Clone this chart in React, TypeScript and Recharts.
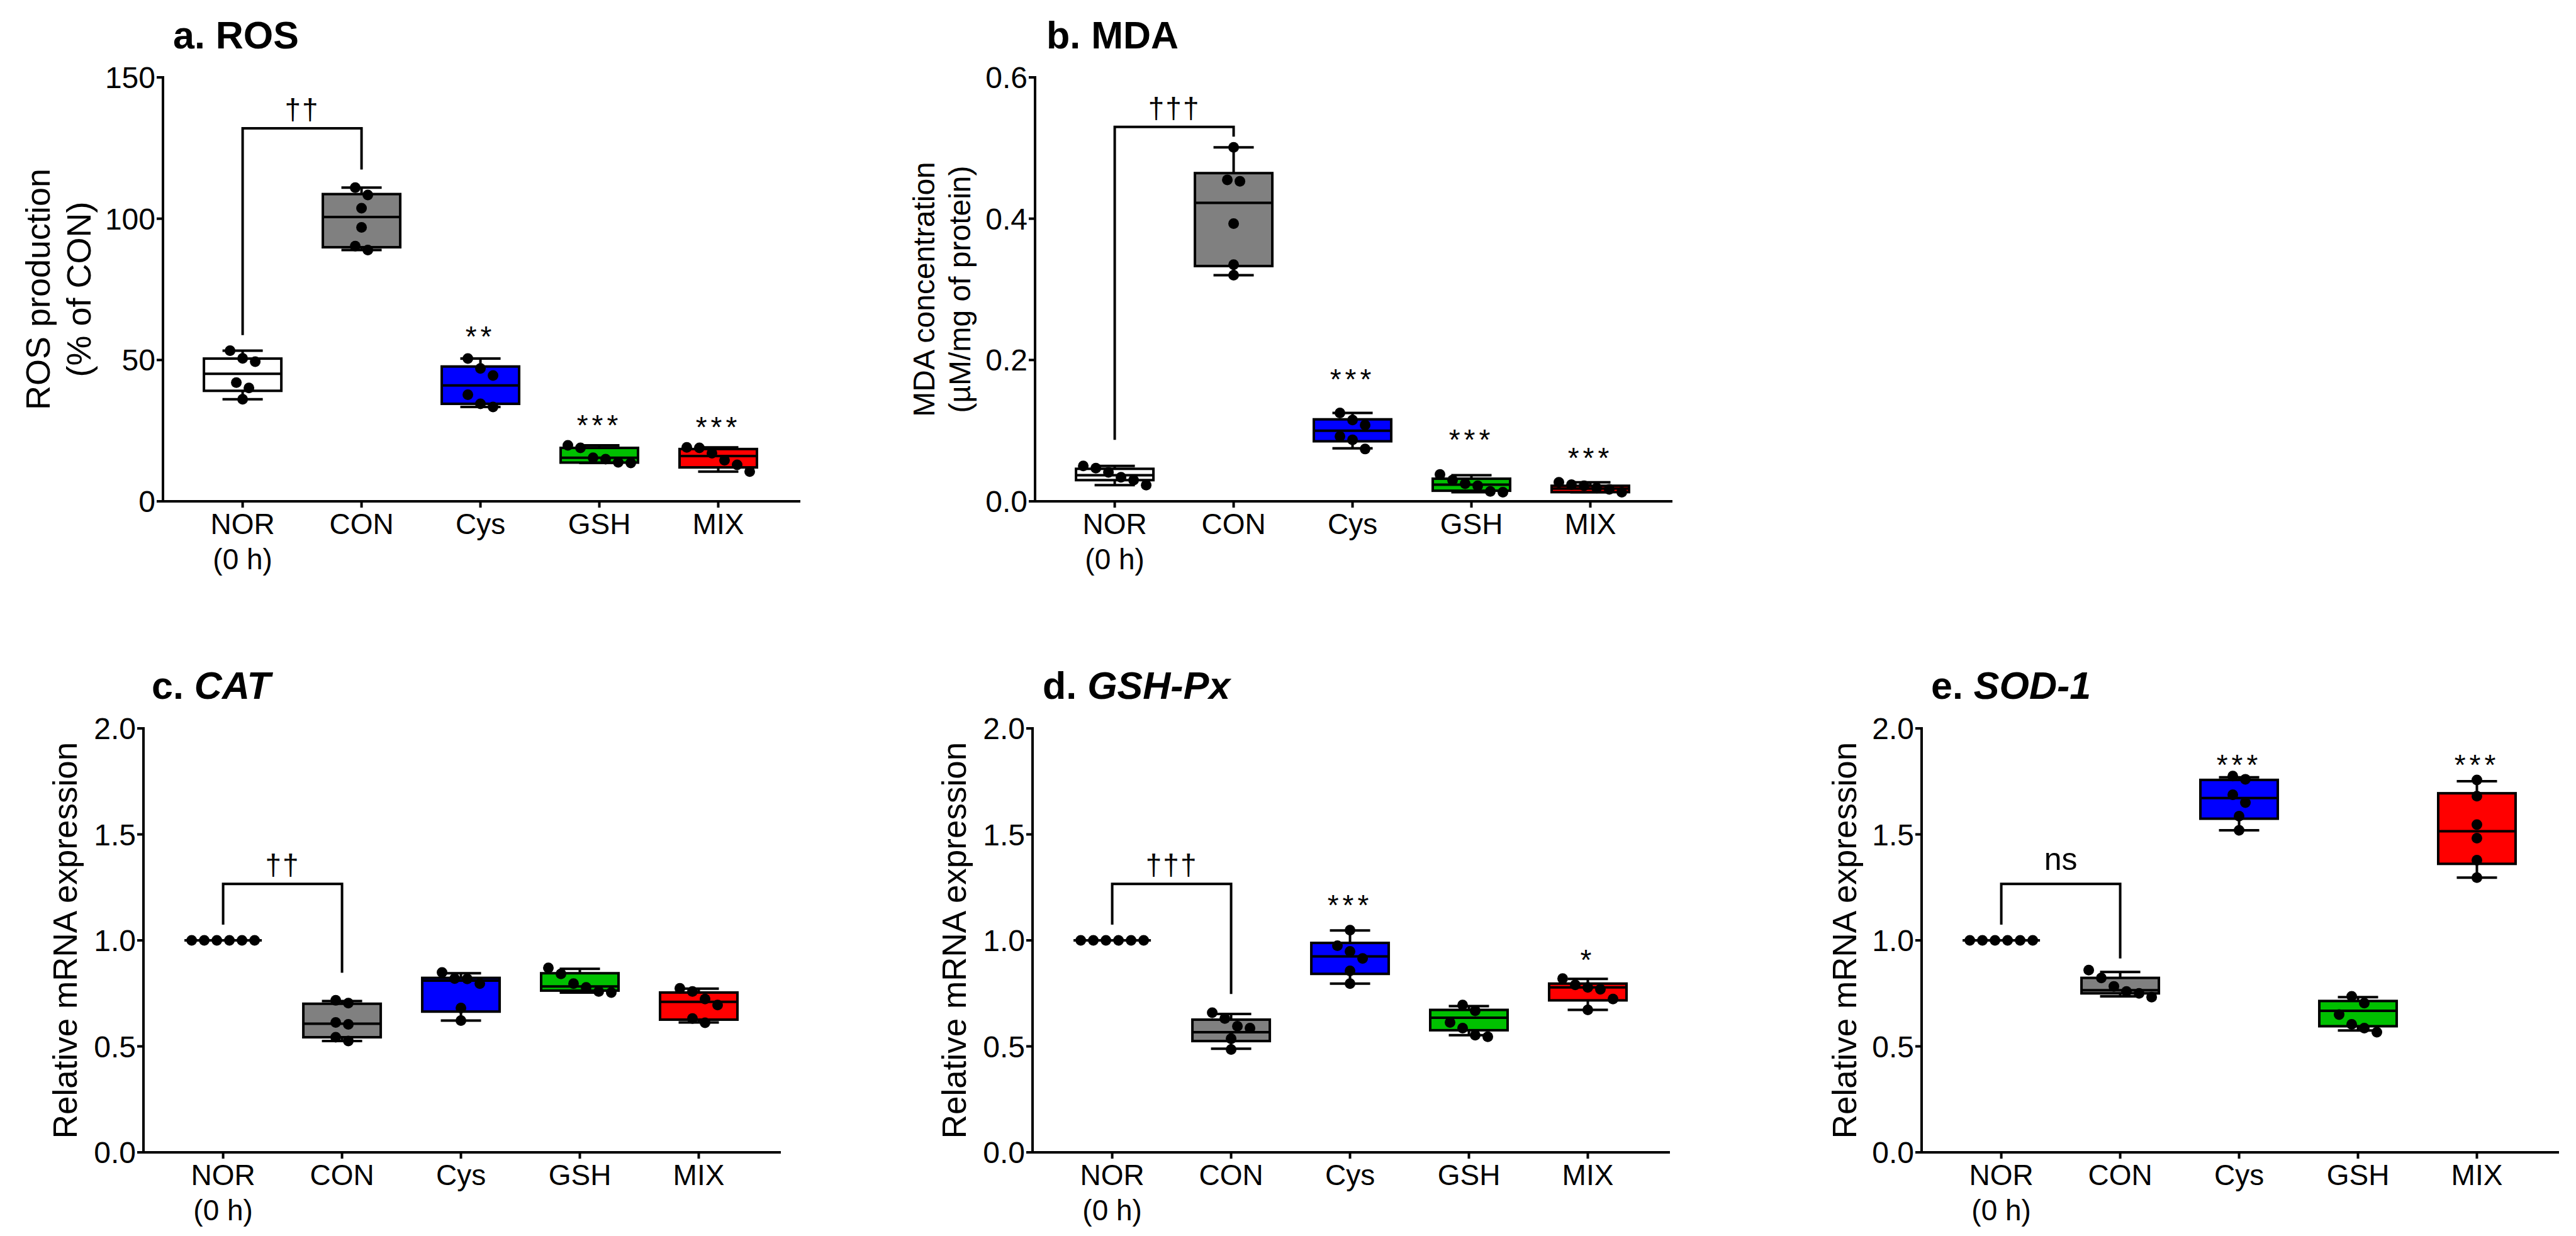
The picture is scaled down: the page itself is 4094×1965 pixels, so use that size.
import React from "react";
import { ComposedChart, Bar, Scatter, Line, XAxis, YAxis } from "recharts";

const FONT = "'Liberation Sans', Arial, sans-serif";

const CATEGORIES = ["NOR\n(0 h)", "CON", "Cys", "GSH", "MIX"];
const GROUP_COLORS = ["#FFFFFF", "#808080", "#0000FF", "#00C000", "#FF0000"];

// box stats per group: [min, Q1, median, Q3, max]
const ROS_BOXES = [
  [36.1, 39.1, 45.1, 50.5, 53.3],
  [88.9, 89.9, 100.6, 108.7, 111.0],
  [33.4, 34.5, 41.0, 47.7, 50.5],
  [13.6, 13.7, 15.4, 18.9, 19.8],
  [10.5, 12.0, 16.0, 18.5, 19.1],
];
const ROS_POINTS = [
  [53.3, 50.6, 49.4, 42.0, 40.1, 36.1],
  [111.0, 108.4, 103.7, 96.9, 90.3, 88.9],
  [50.5, 47.0, 44.5, 37.7, 34.5, 33.4],
  [19.8, 18.9, 15.4, 14.9, 13.8, 13.6],
  [19.1, 18.9, 17.0, 14.5, 12.9, 10.5],
];
const ROS_BRACKET = [58.8, 132, 117.4]; // left foot, top, right foot
const ROS_STARS = ["", "", "**", "***", "***"];
const ROS_STAR_Y = [0, 0, 60.5, 29.2, 28.5];

const MDA_BOXES = [
  [0.023, 0.03, 0.037, 0.046, 0.05],
  [0.32, 0.333, 0.4225, 0.4645, 0.501],
  [0.075, 0.085, 0.1, 0.116, 0.125],
  [0.013, 0.015, 0.0235, 0.032, 0.037],
  [0.013, 0.013, 0.018, 0.022, 0.027],
];
const MDA_POINTS = [
  [0.05, 0.047, 0.041, 0.034, 0.03, 0.023],
  [0.501, 0.455, 0.453, 0.393, 0.335, 0.32],
  [0.125, 0.115, 0.108, 0.092, 0.087, 0.074],
  [0.038, 0.03, 0.025, 0.022, 0.014, 0.013],
  [0.027, 0.0235, 0.022, 0.019, 0.017, 0.013],
];
const MDA_BRACKET = [0.087, 0.53, 0.516];
const MDA_STARS = ["", "", "***", "***", "***"];
const MDA_STAR_Y = [0, 0, 0.1816, 0.0962, 0.0706];

const CAT_BOXES = [
  [1, 1, 1, 1, 1],
  [0.525, 0.543, 0.607, 0.701, 0.714],
  [0.622, 0.664, 0.81, 0.823, 0.845],
  [0.754, 0.763, 0.783, 0.845, 0.866],
  [0.613, 0.626, 0.71, 0.754, 0.772],
];
const CAT_POINTS = [
  [1, 1, 1, 1, 1, 1],
  [0.717, 0.704, 0.613, 0.604, 0.543, 0.525],
  [0.849, 0.82, 0.818, 0.796, 0.681, 0.622],
  [0.87, 0.842, 0.796, 0.778, 0.759, 0.754],
  [0.774, 0.759, 0.723, 0.695, 0.631, 0.611],
];
const CAT_BRACKET = [1.074, 1.266, 0.847];
const CAT_STARS = ["", "", "", "", ""];
const CAT_STAR_Y = [0, 0, 0, 0, 0];

const GPX_BOXES = [
  [1, 1, 1, 1, 1],
  [0.489, 0.525, 0.567, 0.626, 0.653],
  [0.796, 0.842, 0.924, 0.988, 1.047],
  [0.553, 0.576, 0.635, 0.672, 0.69],
  [0.672, 0.717, 0.778, 0.796, 0.818],
];
const GPX_POINTS = [
  [1, 1, 1, 1, 1, 1],
  [0.659, 0.631, 0.595, 0.586, 0.536, 0.485],
  [1.048, 0.975, 0.948, 0.915, 0.856, 0.796],
  [0.695, 0.668, 0.613, 0.586, 0.553, 0.545],
  [0.82, 0.79, 0.778, 0.769, 0.723, 0.672],
];
const GPX_BRACKET = [1.074, 1.266, 0.747];
const GPX_STARS = ["", "", "***", "", "*"];
const GPX_STAR_Y = [0, 0, 1.195, 0, 0.937];

const SOD_BOXES = [
  [1, 1, 1, 1, 1],
  [0.736, 0.75, 0.765, 0.823, 0.851],
  [1.519, 1.574, 1.671, 1.757, 1.769],
  [0.575, 0.595, 0.668, 0.714, 0.732],
  [1.296, 1.361, 1.515, 1.694, 1.751],
];
const SOD_POINTS = [
  [1, 1, 1, 1, 1, 1],
  [0.86, 0.823, 0.783, 0.759, 0.75, 0.732],
  [1.775, 1.76, 1.687, 1.65, 1.586, 1.519],
  [0.736, 0.704, 0.65, 0.604, 0.586, 0.567],
  [1.757, 1.68, 1.546, 1.482, 1.378, 1.296],
];
const SOD_BRACKET = [1.074, 1.266, 0.915];
const SOD_STARS = ["", "", "***", "", "***"];
const SOD_STAR_Y = [0, 0, 1.857, 0, 1.857];

const PLOT_W = 1011;
const PLOT_H = 674;
const X_MIN = -0.67;
const X_MAX = 4.68;
const PX_PER_X = PLOT_W / (X_MAX - X_MIN);
const Y_AXIS_W = 140;
const BOX_W = 123;

const fmt1 = (v: number) => v.toFixed(1);
const fmt0 = (v: number) => String(v);

const PANELS = [
  {
    key: "a", title: ["a. ROS", ""], titleX: 275, titleY: 77,
    left: 259, top: 123, yMax: 150, yTicks: [0, 50, 100, 150], fmt: fmt0,
    yLabel: ["ROS production", "(% of CON)"], labelSize: 54, labelOffsets: [-180, -115],
    boxes: ROS_BOXES, points: ROS_POINTS, bracket: ROS_BRACKET, bracketText: "††",
    stars: ROS_STARS, starY: ROS_STAR_Y,
  },
  {
    key: "b", title: ["b. MDA", ""], titleX: 1663, titleY: 77,
    left: 1645, top: 123, yMax: 0.6, yTicks: [0, 0.2, 0.4, 0.6], fmt: fmt1,
    yLabel: ["MDA concentration", "(µM/mg of protein)"], labelSize: 48, labelOffsets: [-160, -103],
    boxes: MDA_BOXES, points: MDA_POINTS, bracket: MDA_BRACKET, bracketText: "†††",
    stars: MDA_STARS, starY: MDA_STAR_Y,
  },
  {
    key: "c", title: ["c. ", "CAT"], titleX: 241, titleY: 1111,
    left: 228, top: 1158, yMax: 2, yTicks: [0, 0.5, 1, 1.5, 2], fmt: fmt1,
    yLabel: ["Relative mRNA expression"], labelSize: 53, labelOffsets: [-106],
    boxes: CAT_BOXES, points: CAT_POINTS, bracket: CAT_BRACKET, bracketText: "††",
    stars: CAT_STARS, starY: CAT_STAR_Y,
  },
  {
    key: "d", title: ["d. ", "GSH-Px"], titleX: 1657, titleY: 1111,
    left: 1641, top: 1158, yMax: 2, yTicks: [0, 0.5, 1, 1.5, 2], fmt: fmt1,
    yLabel: ["Relative mRNA expression"], labelSize: 53, labelOffsets: [-106],
    boxes: GPX_BOXES, points: GPX_POINTS, bracket: GPX_BRACKET, bracketText: "†††",
    stars: GPX_STARS, starY: GPX_STAR_Y,
  },
  {
    key: "e", title: ["e. ", "SOD-1"], titleX: 3069, titleY: 1111,
    left: 3054, top: 1158, yMax: 2, yTicks: [0, 0.5, 1, 1.5, 2], fmt: fmt1,
    yLabel: ["Relative mRNA expression"], labelSize: 53, labelOffsets: [-104],
    boxes: SOD_BOXES, points: SOD_POINTS, bracket: SOD_BRACKET, bracketText: "ns",
    stars: SOD_STARS, starY: SOD_STAR_Y,
  },
];

// spread points that would overlap into a row, like a prism scatter
function swarm(values: number[], pxPerY: number) {
  const order = values.map((_, i) => i).sort((a, b) => values[b] - values[a]);
  const offs = new Array(values.length).fill(0);
  let cluster: number[] = [];
  const flush = () => {
    const n = cluster.length;
    cluster.forEach((idx, k) => (offs[idx] = (k - (n - 1) / 2) * 20));
    cluster = [];
  };
  order.forEach((idx) => {
    if (cluster.length && (values[cluster[cluster.length - 1]] - values[idx]) * pxPerY > 16) flush();
    cluster.push(idx);
  });
  flush();
  return offs;
}

const BoxShape = (props: any) => {
  const { x, y, width, height, payload } = props;
  const [mn, q1, md, q3, mx] = payload.stats;
  const top = Math.min(y, y + height);
  const h = Math.abs(height);
  const span = mx - mn;
  const py = (v: number) => (span > 0 ? top + ((mx - v) / span) * h : top);
  const cx = x + width / 2;
  const bx = cx - BOX_W / 2;
  const cap = 32;
  return (
    <g>
      <line x1={cx} x2={cx} y1={py(mx)} y2={py(mn)} stroke="#000" strokeWidth={4} />
      <line x1={cx - cap} x2={cx + cap} y1={py(mx)} y2={py(mx)} stroke="#000" strokeWidth={4} />
      <line x1={cx - cap} x2={cx + cap} y1={py(mn)} y2={py(mn)} stroke="#000" strokeWidth={4} />
      <rect x={bx} y={py(q3)} width={BOX_W} height={Math.max(py(q1) - py(q3), 0)} fill={payload.fill} stroke="#000" strokeWidth={4} />
      <line x1={bx} x2={bx + BOX_W} y1={py(md)} y2={py(md)} stroke="#000" strokeWidth={4} />
    </g>
  );
};

const Dot = (props: any) => <circle cx={props.cx} cy={props.cy} r={8.5} fill="#000" />;

const MarkText = (props: any) => {
  const { cx, cy, payload } = props;
  if (!payload.text) return <g />;
  if (payload.kind === "bracket") {
    const ns = payload.text === "ns";
    return (
      <text x={cx} y={cy - (ns ? 22 : 14)} textAnchor="middle" fontSize={ns ? 50 : 46} fontFamily={FONT} fill="#000" letterSpacing={ns ? 0 : 2}>
        {payload.text}
      </text>
    );
  }
  return (
    <text x={cx} y={cy + 26} textAnchor="middle" fontSize={46} fontFamily={FONT} fill="#000" letterSpacing={6}>
      {payload.text}
    </text>
  );
};

const XTick = (props: any) => {
  const { x, y, payload } = props;
  const lines = CATEGORIES[Math.round(payload.value)].split("\n");
  return (
    <g>
      {lines.map((s, i) => (
        <text key={i} x={x} y={y + 40 + i * 56} textAnchor="middle" fontSize={46} fontFamily={FONT} fill="#000">
          {s}
        </text>
      ))}
    </g>
  );
};

const makeYLabel = (lines: string[], size: number, offsets: number[]) => (props: any) => {
  const vb = props.viewBox || {};
  const axisX = vb.x + vb.width;
  const cy = vb.y + vb.height / 2;
  return (
    <g>
      {lines.map((s, i) => {
        const px = axisX + offsets[i];
        return (
          <text key={i} x={px} y={cy} transform={`rotate(-90, ${px}, ${cy})`} textAnchor="middle" fontSize={size} fontFamily={FONT} fill="#000">
            {s}
          </text>
        );
      })}
    </g>
  );
};

function Panel({ cfg }: { cfg: any }) {
  const pxPerY = PLOT_H / cfg.yMax;
  const boxData = cfg.boxes.map((b: number[], i: number) => ({ x: i, range: [b[0], b[4]], stats: b, fill: GROUP_COLORS[i] }));
  const pointData = cfg.points.flatMap((vals: number[], i: number) => {
    const offs = swarm(vals, pxPerY);
    return vals.map((v, k) => ({ x: i + offs[k] / PX_PER_X, y: v }));
  });
  const [footL, topY, footR] = cfg.bracket;
  const bracketData = [
    { x: 0, y: footL },
    { x: 0, y: topY },
    { x: 1, y: topY },
    { x: 1, y: footR },
  ];
  const markData = [
    { x: 0.5, y: topY, text: cfg.bracketText, kind: "bracket" },
    ...cfg.stars.map((s: string, i: number) => ({ x: i, y: cfg.starY[i], text: s, kind: "star" })),
  ].filter((m) => m.text);

  const marginLeft = Math.min(110, cfg.left - Y_AXIS_W);
  const chartLeft = cfg.left - Y_AXIS_W - marginLeft;
  const margin = { top: 40, right: 40, bottom: 40, left: marginLeft };
  const width = PLOT_W + Y_AXIS_W + marginLeft + margin.right;
  const height = PLOT_H + margin.top + margin.bottom + 100;

  return (
    <div style={{ position: "absolute", left: chartLeft, top: cfg.top - margin.top }}>
      <ComposedChart width={width} height={height} data={boxData} margin={margin}>
        <XAxis
          type="number"
          dataKey="x"
          domain={[X_MIN, X_MAX]}
          ticks={[0, 1, 2, 3, 4]}
          interval={0}
          height={100}
          tick={<XTick />}
          tickSize={10}
          axisLine={{ stroke: "#000", strokeWidth: 4, strokeLinecap: "square" }}
          tickLine={{ stroke: "#000", strokeWidth: 4 }}
        />
        <YAxis
          type="number"
          domain={[0, cfg.yMax]}
          ticks={cfg.yTicks}
          interval={0}
          width={Y_AXIS_W}
          tickFormatter={cfg.fmt}
          tickSize={10}
          tick={{ fill: "#000", fontSize: 48, fontFamily: FONT }}
          axisLine={{ stroke: "#000", strokeWidth: 4, strokeLinecap: "square" }}
          tickLine={{ stroke: "#000", strokeWidth: 4 }}
          label={{ content: makeYLabel(cfg.yLabel, cfg.labelSize, cfg.labelOffsets) }}
        />
        <Bar dataKey="range" shape={<BoxShape />} isAnimationActive={false} />
        <Scatter data={pointData} dataKey="y" shape={<Dot />} isAnimationActive={false} />
        <Line data={bracketData} dataKey="y" type="linear" stroke="#000" strokeWidth={4} dot={false} activeDot={false} isAnimationActive={false} />
        <Scatter data={markData} dataKey="y" shape={<MarkText />} isAnimationActive={false} />
      </ComposedChart>
    </div>
  );
}

export default function App() {
  return (
    <div style={{ position: "relative", width: 4094, height: 1965, background: "#fff", overflow: "hidden" }}>
      <style>{`body{margin:0;background:#fff}`}</style>
      {PANELS.map((p) => (
        <Panel key={p.key} cfg={p} />
      ))}
      <svg width={4094} height={1965} style={{ position: "absolute", left: 0, top: 0, pointerEvents: "none" }}>
        {PANELS.map((p) => (
          <text key={p.key} x={p.titleX} y={p.titleY} fontSize={61} fontWeight="bold" fontFamily={FONT} fill="#000">
            {p.title[0]}
            {p.title[1] && <tspan fontStyle="italic">{p.title[1]}</tspan>}
          </text>
        ))}
      </svg>
    </div>
  );
}
